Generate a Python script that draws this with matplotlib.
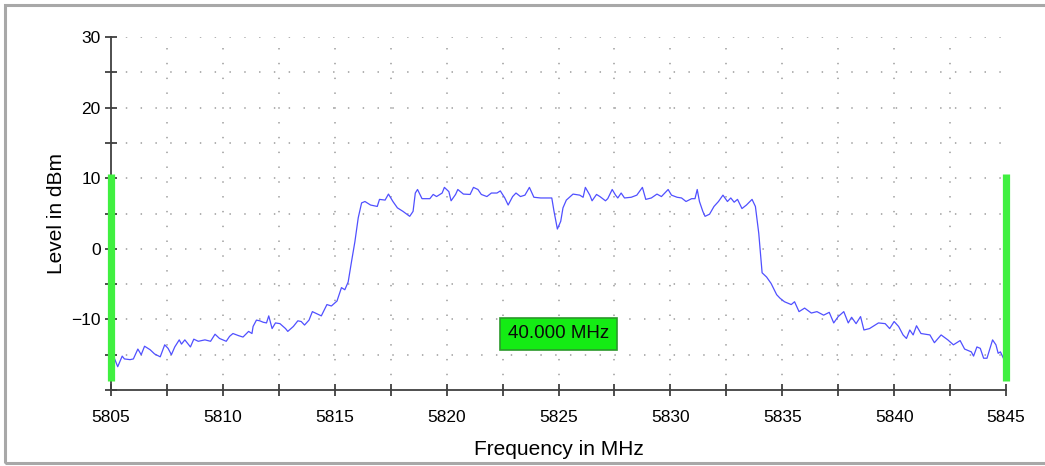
import matplotlib
matplotlib.use("Agg")
import matplotlib.pyplot as plt
from matplotlib.ticker import MultipleLocator, FixedLocator
from matplotlib.patches import Rectangle

# ---- data ----
freq_mhz = [
    5805.0, 5805.15, 5805.3, 5805.5, 5805.6, 5805.85, 5806.0, 5806.2, 5806.35, 5806.5,
    5806.75, 5806.95, 5807.2, 5807.4, 5807.55, 5807.7, 5807.85, 5808.05, 5808.15, 5808.3,
    5808.55, 5808.7, 5808.9, 5809.2, 5809.45, 5809.65, 5809.85, 5810.15, 5810.3, 5810.45,
    5810.7, 5810.9, 5811.15, 5811.3, 5811.35, 5811.5, 5811.65, 5811.8, 5811.95, 5812.05,
    5812.2, 5812.35, 5812.55, 5812.8, 5812.9, 5813.15, 5813.35, 5813.5, 5813.65, 5813.85,
    5814.0, 5814.2, 5814.4, 5814.65, 5814.85, 5815.1, 5815.3, 5815.45, 5815.6, 5815.75,
    5815.9, 5816.05, 5816.2, 5816.35, 5816.6, 5816.9, 5817.0, 5817.25, 5817.4, 5817.6,
    5817.8, 5818.05, 5818.35, 5818.5, 5818.6, 5818.7, 5818.9, 5819.25, 5819.4, 5819.55,
    5819.8, 5819.9, 5820.1, 5820.2, 5820.4, 5820.5, 5820.75, 5821.05, 5821.2, 5821.4,
    5821.55, 5821.8, 5822.0, 5822.25, 5822.4, 5822.6, 5822.75, 5822.95, 5823.1, 5823.3,
    5823.5, 5823.7, 5823.9, 5824.2, 5824.7, 5824.8, 5824.95, 5825.1, 5825.2, 5825.35,
    5825.65, 5825.95, 5826.1, 5826.2, 5826.4, 5826.5, 5826.7, 5826.85, 5827.1, 5827.2,
    5827.4, 5827.55, 5827.65, 5827.8, 5827.95, 5828.25, 5828.5, 5828.75, 5828.9, 5829.15,
    5829.4, 5829.6, 5829.9, 5830.05, 5830.3, 5830.5, 5830.7, 5830.95, 5831.1, 5831.2,
    5831.3, 5831.45, 5831.55, 5831.75, 5831.95, 5832.15, 5832.35, 5832.55, 5832.7, 5832.85,
    5833.0, 5833.2, 5833.4, 5833.65, 5833.8, 5833.95, 5834.1, 5834.3, 5834.5, 5834.75,
    5834.9, 5835.1, 5835.4, 5835.55, 5835.75, 5836.0, 5836.3, 5836.55, 5836.85, 5837.1,
    5837.3, 5837.5, 5837.75, 5837.95, 5838.1, 5838.3, 5838.5, 5838.65, 5838.9, 5839.3,
    5839.6, 5839.8, 5840.0, 5840.2, 5840.4, 5840.55, 5840.7, 5840.85, 5841.0, 5841.2,
    5841.6, 5841.8, 5842.1, 5842.4, 5842.65, 5842.95, 5843.15, 5843.45, 5843.55, 5843.7,
    5843.85, 5844.0, 5844.15, 5844.4, 5844.55, 5844.65, 5844.75, 5844.9,
]
level_dbm = [
    -15.3, -15.5, -16.7, -15.2, -15.6, -15.7, -15.6, -14.2, -15.0, -13.8,
    -14.3, -14.9, -15.3, -13.6, -14.1, -15.0, -13.9, -12.9, -13.5, -12.9,
    -13.9, -12.8, -13.1, -12.9, -13.1, -12.1, -12.7, -13.1, -12.4, -12.0,
    -12.3, -12.5, -11.7, -12.0, -11.0, -10.1, -10.2, -10.4, -10.5, -9.5,
    -11.3, -10.5, -10.6, -11.3, -11.7, -11.0, -10.2, -10.3, -10.8, -10.1,
    -8.9, -9.2, -9.5, -7.9, -8.1, -7.4, -5.5, -5.8, -4.7, -1.8,
    1.0, 4.4, 6.5, 6.7, 6.2, 6.0, 7.0, 6.9, 7.75, 6.7,
    5.8, 5.3, 4.6, 5.3, 7.9, 8.4, 7.1, 7.1, 7.7, 7.4,
    7.9, 8.7, 8.1, 6.8, 7.7, 8.4, 7.75, 7.7, 8.7, 8.4,
    7.7, 7.4, 7.9, 7.9, 8.2, 7.2, 6.2, 7.4, 7.9, 7.4,
    7.6, 8.7, 7.3, 7.2, 7.2, 5.3, 2.8, 3.9, 5.8, 6.9,
    7.75, 7.6, 7.3, 8.7, 7.6, 6.8, 7.7, 7.4, 6.8, 7.1,
    8.4, 7.6, 7.2, 7.9, 7.2, 7.3, 7.6, 8.7, 7.0, 7.2,
    7.75, 7.4, 8.4, 7.6, 7.3, 7.2, 6.7, 7.1, 7.1, 8.4,
    6.7, 5.3, 4.6, 4.9, 6.0, 6.7, 7.6, 6.7, 7.2, 6.6,
    7.0, 5.7, 6.2, 7.0, 6.0, 2.2, -3.4, -4.0, -4.9, -6.5,
    -7.0, -7.5, -7.9, -7.5, -8.9, -8.4, -9.1, -8.9, -9.4, -9.0,
    -10.5, -9.6, -8.9, -10.5, -9.7, -10.6, -9.6, -11.5, -11.3, -10.5,
    -10.6, -11.3, -10.3, -11.0, -12.2, -12.7, -11.5, -12.2, -10.9, -12.0,
    -12.2, -13.3, -12.2, -12.9, -13.6, -13.0, -14.2, -14.6, -15.2, -13.9,
    -14.1, -15.5, -15.5, -12.9, -13.6, -14.8, -14.6, -15.6,
]
marker_freqs = [5805.0, 5845.0]
marker_range = [-18.7, 10.6]
span_label = "40.000 MHz"
span_label_pos = (5825.0, -12.0)
x_major_ticks = [5805, 5810, 5815, 5820, 5825, 5830, 5835, 5840, 5845]
y_major_ticks = [-10, 0, 10, 20, 30]

plt.rcParams['font.family'] = ['Liberation Sans', 'DejaVu Sans']

fig = plt.figure(figsize=(10.45, 4.66), dpi=100)
ax = fig.add_axes([111/1045, 1-390/466, (1006-111)/1045, (390-37)/466])

# grid
grid_kw = dict(color='#aaaaaa', linewidth=1.3, linestyle=(0, (0.8, 7.4)), zorder=0)
for gx in [5805 + 2.5*i for i in range(1, 16)]:
    ax.axvline(gx, **grid_kw)
for gy in [-15 + 5*i for i in range(0, 10)]:
    ax.axhline(gy, **grid_kw)

ax.plot(freq_mhz, level_dbm, color='#5050ff', linewidth=0.9, zorder=3)

for mf in marker_freqs:
    ax.plot([mf, mf], marker_range, color='#40f040', linewidth=5.2,
            solid_capstyle='butt', zorder=4, clip_on=False)

ax.text(span_label_pos[0], span_label_pos[1], span_label, ha='center', va='center',
        fontsize=13.5, color='#0a0a0a', zorder=5,
        bbox=dict(boxstyle='square,pad=0.4', facecolor='#14ec14',
                  edgecolor='#2a9a2a', linewidth=1.2))

ax.set_xlim(5805, 5845)
ax.set_ylim(-20, 30)
ax.xaxis.set_major_locator(FixedLocator(x_major_ticks))
ax.xaxis.set_minor_locator(MultipleLocator(2.5))
ax.yaxis.set_major_locator(FixedLocator(y_major_ticks))
ax.yaxis.set_minor_locator(MultipleLocator(5))

for s in ['top', 'right']:
    ax.spines[s].set_visible(False)
for s in ['left', 'bottom']:
    ax.spines[s].set_color('#404040')
    ax.spines[s].set_linewidth(1.3)

ax.tick_params(axis='y', which='both', direction='inout', length=9, width=1.2,
               color='#303030', labelsize=12.5, pad=3)
ax.tick_params(axis='x', which='both', direction='inout', length=9, width=1.2,
               color='#303030', labelsize=12.5, pad=10)

ax.set_xlabel('Frequency in MHz', fontsize=15, labelpad=11)
ax.set_ylabel('Level in dBm', fontsize=15, labelpad=4)

# outer frame
fig.patches.append(Rectangle((5/1045, 3/466), 1.2, 1-8/466, transform=fig.transFigure,
                             fill=False, edgecolor='#a8a8a8', linewidth=2.2))

fig.savefig('out.png', dpi=100)
